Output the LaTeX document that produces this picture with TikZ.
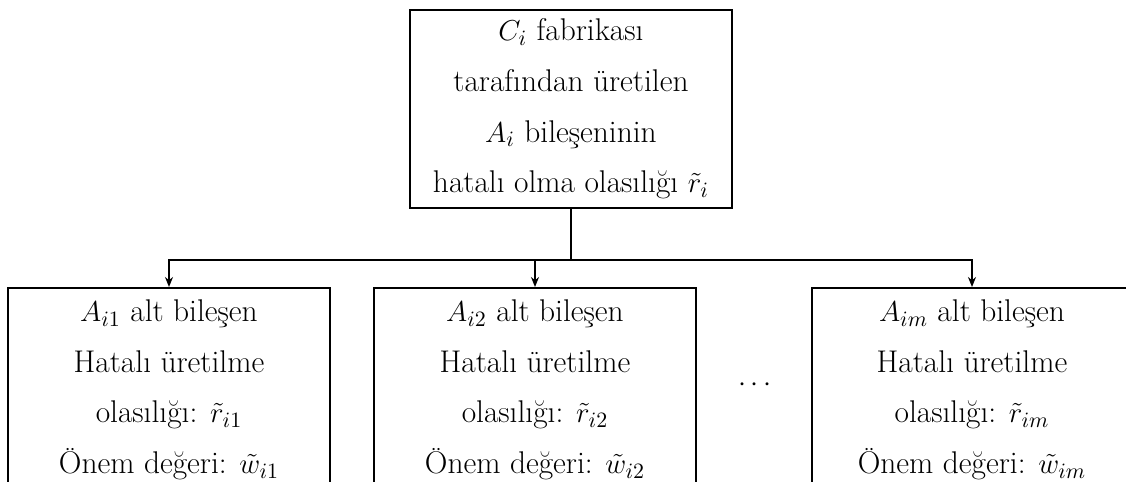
\documentclass[tikz,border=0pt]{standalone}
\usepackage{fontspec}
\usetikzlibrary{arrows.meta}
\begin{document}
\begin{tikzpicture}[x=0.5pt,y=-0.5pt,
  every node/.style={font=\fontsize{15.7}{25.3}\selectfont},
  boxnode/.style={draw,line width=0.9pt,align=center,minimum width=161pt,minimum height=99pt,inner sep=0pt},
  conn/.style={line width=0.9pt},
  arr/.style={conn,-{Stealth[length=5pt,width=4pt]}}]
\useasboundingbox (0,0) rectangle (1126,482);
\clip (0,0) rectangle (1126,482);
\node[boxnode,anchor=north] (top) at (571,9) {$C_i$ fabrikası\\tarafından üretilen\\$A_i$ bileşeninin\\hatalı olma olasılığı $\tilde{r}_i$};
\node[boxnode,anchor=north,minimum height=102pt] (b1) at (169,287) {$A_{i1}$ alt bileşen\\Hatalı üretilme\\olasılığı: $\tilde{r}_{i1}$\\Önem değeri: $\tilde{w}_{i1}$};
\node[boxnode,anchor=north,minimum height=102pt] (b2) at (535,287) {$A_{i2}$ alt bileşen\\Hatalı üretilme\\olasılığı: $\tilde{r}_{i2}$\\Önem değeri: $\tilde{w}_{i2}$};
\node[boxnode,anchor=north,minimum height=102pt,minimum width=160pt] (b3) at (972,287) {$A_{im}$ alt bileşen\\Hatalı üretilme\\olasılığı: $\tilde{r}_{im}$\\Önem değeri: $\tilde{w}_{im}$};
\node (dots) at (755,385) {$\cdots$};
\coordinate (j) at (571,260);
\draw[conn] (top.south) -- (j);
\draw[arr] (j) -| (b1.north);
\draw[arr] (j) -| (b2.north);
\draw[arr] (j) -| (b3.north);
\end{tikzpicture}
\end{document}
